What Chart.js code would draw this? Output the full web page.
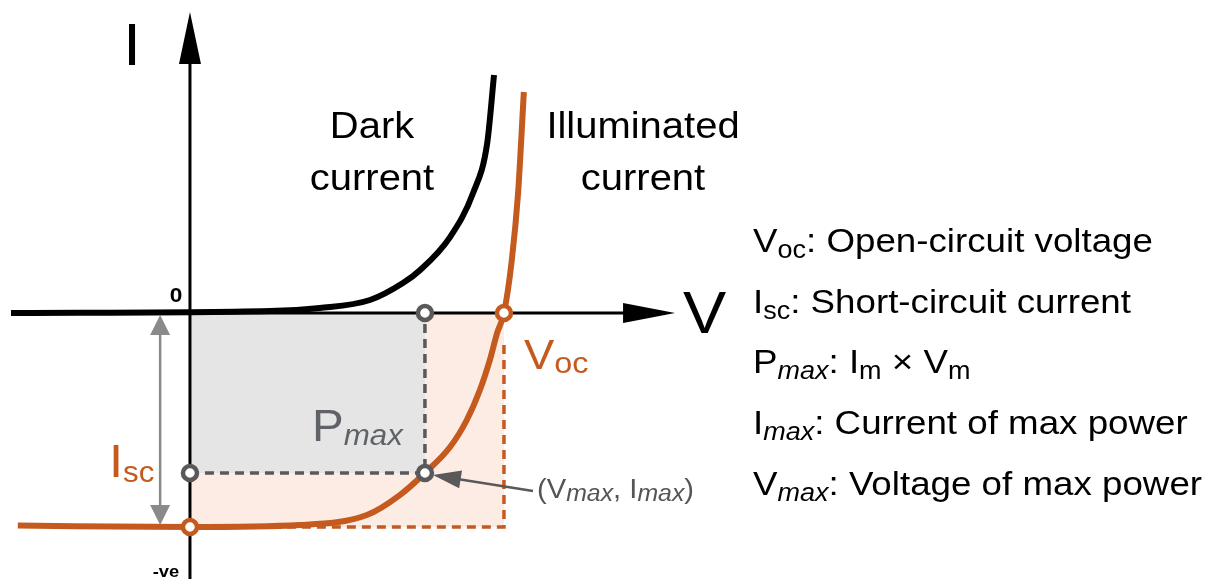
<!DOCTYPE html>
<html>
<head>
<meta charset="utf-8">
<script src="https://cdn.jsdelivr.net/npm/chart.js@4.4.1/dist/chart.umd.min.js"></script>
<style>
  html, body { margin: 0; padding: 0; background: #fff; }
  #wrap { width: 1206px; height: 579px; }
</style>
</head>
<body>
<div id="wrap"><canvas id="ivChart" width="1206" height="579"></canvas></div>
<script>
// I-V curve readings (V in volts, I in arbitrary current units)
const darkV = [-0.342, 0.153, 0.248, 0.344, 0.407, 0.440, 0.497, 0.541, 0.568, 0.581];
const darkI = [0, 0.028, 0.07, 0.182, 0.42, 0.603, 1.065, 1.682, 2.383, 3.337];

const illumV = [-0.329, 0, 0.210, 0.338, 0.401, 0.449, 0.497, 0.529, 0.554, 0.573, 0.587, 0.600, 0.615, 0.627, 0.638];
const illumI = [-2.98, -3.0, -2.972, -2.832, -2.552, -2.243, -1.879, -1.50, -1.08, -0.66, -0.28, 0, 0.743, 1.682, 3.098];

// key points
const Voc = 0.6;
const Isc = 3.0;
const Vmax = 0.449;
const Imax = -2.243;

// axis extents (V axis, I axis)
const axisV = [-0.342, 0.927];
const axisI = [-3.73, 4.22];

const ORANGE = '#c55a1f';
const GREY = '#595959';

const pts = (xs, ys) => xs.map((x, i) => ({ x: x, y: ys[i] }));

const SX = 1.08; // text is slightly wide in the original
function rich(ctx, x, y, parts, color, align) {
  const fontOf = p => (p[2] ? 'italic ' : '') + (p[4] ? 'bold ' : '') + p[1] + 'px "Liberation Sans", Arial, sans-serif';
  ctx.save();
  ctx.fillStyle = color;
  ctx.textBaseline = 'alphabetic';
  ctx.textAlign = 'left';
  let w = 0;
  parts.forEach(p => { ctx.font = fontOf(p); w += ctx.measureText(p[0]).width; });
  ctx.translate(x, y);
  ctx.scale(SX, 1);
  let cx = align === 'center' ? -w / 2 : 0;
  parts.forEach(p => {
    ctx.font = fontOf(p);
    ctx.fillText(p[0], cx, p[3] || 0);
    cx += ctx.measureText(p[0]).width;
  });
  ctx.restore();
}

function arrowHead(ctx, tx, ty, ang, len, half, color) {
  ctx.save();
  ctx.translate(tx, ty);
  ctx.rotate(ang);
  ctx.fillStyle = color;
  ctx.beginPath();
  ctx.moveTo(0, 0);
  ctx.lineTo(-len, -half);
  ctx.lineTo(-len, half);
  ctx.closePath();
  ctx.fill();
  ctx.restore();
}

const annotate = {
  id: 'annotate',
  afterDatasetsDraw(chart) {
    const ctx = chart.ctx;
    const xs = chart.scales.x, ys = chart.scales.y;
    const px = v => xs.getPixelForValue(v), py = v => ys.getPixelForValue(v);

    // axis arrow heads
    arrowHead(ctx, px(axisV[1]), py(0), 0, 52, 10, '#000');
    arrowHead(ctx, px(0), py(axisI[1]), -Math.PI / 2, 52, 11, '#000');

    // Isc double arrow
    const ax = px(-0.057);
    ctx.save();
    ctx.strokeStyle = '#8a8a8a';
    ctx.lineWidth = 2.5;
    ctx.beginPath();
    ctx.moveTo(ax, py(0) + 15);
    ctx.lineTo(ax, py(-Isc) - 15);
    ctx.stroke();
    ctx.restore();
    arrowHead(ctx, ax, py(0) + 2, -Math.PI / 2, 20, 10, '#8a8a8a');
    arrowHead(ctx, ax, py(-Isc) - 2, Math.PI / 2, 20, 10, '#8a8a8a');

    // pointer to max power point
    const tx = px(Vmax) + 8, ty = py(Imax) + 2;
    const sx = 533, sy = 491;
    const ang = Math.atan2(ty - sy, tx - sx);
    ctx.save();
    ctx.strokeStyle = GREY;
    ctx.lineWidth = 2.5;
    ctx.beginPath();
    ctx.moveTo(sx, sy);
    ctx.lineTo(tx - 20 * Math.cos(ang), ty - 20 * Math.sin(ang));
    ctx.stroke();
    ctx.restore();
    arrowHead(ctx, tx, ty, ang, 28, 9, GREY);
  },
  afterDraw(chart) {
    const ctx = chart.ctx;
    // axis labels
    rich(ctx, 132, 65, [['I', 60]], '#000', 'center');
    rich(ctx, 683, 333, [['V', 60]], '#000');
    rich(ctx, 176, 302, [['0', 21, 0, 0, 1]], '#000', 'center');
    rich(ctx, 166, 577, [['-ve', 17, 0, 0, 1]], '#000', 'center');

    // curve labels
    rich(ctx, 372, 138, [['Dark', 37]], '#000', 'center');
    rich(ctx, 372, 190, [['current', 37]], '#000', 'center');
    rich(ctx, 643, 138, [['Illuminated', 37]], '#000', 'center');
    rich(ctx, 643, 190, [['current', 37]], '#000', 'center');

    // point labels
    rich(ctx, 524, 369, [['V', 42], ['oc', 30, 0, 4]], ORANGE);
    rich(ctx, 109, 477, [['I', 47], ['sc', 29, 0, 5]], ORANGE);
    rich(ctx, 312, 441, [['P', 44], ['max', 29, 1, 4]], '#5f6368');
    rich(ctx, 537, 498, [['(V', 27], ['max', 23, 1, 3], [', I', 27], ['max', 23, 1, 3], [')', 27]], '#555');

    // definitions
    const L = 753, S = 34, s = 25, d = 6;
    const rows = [
      [['V', S], ['oc', s, 0, d], [': Open-circuit voltage', S]],
      [['I', S], ['sc', s, 0, d], [': Short-circuit current', S]],
      [['P', S], ['max', s, 1, d], [': I', S], ['m', s, 0, d], [' \u00d7 V', S], ['m', s, 0, d]],
      [['I', S], ['max', s, 1, d], [': Current of max power', S]],
      [['V', S], ['max', s, 1, d], [': Voltage of max power', S]]
    ];
    rows.forEach((r, i) => rich(ctx, L, 252 + 60.7 * i, r, '#000'));
  }
};

new Chart(document.getElementById('ivChart'), {
  type: 'scatter',
  data: {
    datasets: [
      { // P_oc box (light orange)
        data: [{ x: 0, y: -Isc }, { x: Voc, y: -Isc }],
        showLine: true, fill: 'origin', backgroundColor: '#fdece4',
        borderColor: 'transparent', borderWidth: 0, pointRadius: 0, order: 10
      },
      { // P_max box (grey)
        data: [{ x: 0, y: Imax }, { x: Vmax, y: Imax }],
        showLine: true, fill: 'origin', backgroundColor: '#e5e5e5',
        borderColor: 'transparent', borderWidth: 0, pointRadius: 0, order: 9
      },
      { // orange dashed box edge
        data: [{ x: Voc, y: -0.45 }, { x: Voc, y: -Isc }, { x: 0, y: -Isc }],
        showLine: true, borderColor: ORANGE, borderWidth: 3.5, borderDash: [9, 6],
        pointRadius: 0, fill: false, order: 8
      },
      { // grey dashed box edge
        data: [{ x: 0, y: Imax }, { x: Vmax, y: Imax }, { x: Vmax, y: 0 }],
        showLine: true, borderColor: GREY, borderWidth: 3.5, borderDash: [9, 6],
        pointRadius: 0, fill: false, order: 7
      },
      { // V axis
        data: [{ x: axisV[0], y: 0 }, { x: axisV[1] - 0.05, y: 0 }],
        showLine: true, borderColor: '#000', borderWidth: 3, pointRadius: 0, order: 6
      },
      { // I axis
        data: [{ x: 0, y: axisI[0] }, { x: 0, y: axisI[1] - 0.5 }],
        showLine: true, borderColor: '#000', borderWidth: 3, pointRadius: 0, order: 6
      },
      { // dark current
        data: pts(darkV, darkI),
        showLine: true, borderColor: '#000', borderWidth: 6, pointRadius: 0,
        cubicInterpolationMode: 'monotone', fill: false, order: 5
      },
      { // illuminated current
        data: pts(illumV, illumI),
        showLine: true, borderColor: ORANGE, borderWidth: 6, pointRadius: 0,
        cubicInterpolationMode: 'monotone', fill: false, order: 4
      },
      { // grey markers
        data: [{ x: Vmax, y: 0 }, { x: 0, y: Imax }, { x: Vmax, y: Imax }],
        showLine: false, pointRadius: 7, pointBorderWidth: 4.5,
        pointBackgroundColor: '#fff', pointBorderColor: GREY, order: 2
      },
      { // orange markers
        data: [{ x: Voc, y: 0 }, { x: 0, y: -Isc }],
        showLine: false, pointRadius: 7, pointBorderWidth: 4.5,
        pointBackgroundColor: '#fff', pointBorderColor: ORANGE, order: 1
      }
    ]
  },
  options: {
    responsive: false,
    animation: false,
    layout: { padding: 0, autoPadding: false },
    plugins: { legend: { display: false }, tooltip: { enabled: false } },
    scales: {
      x: { type: 'linear', min: -0.363, max: 1.9415, display: false },
      y: { type: 'linear', min: -3.729, max: 4.388, display: false }
    }
  },
  plugins: [annotate]
});
</script>
</body>
</html>
